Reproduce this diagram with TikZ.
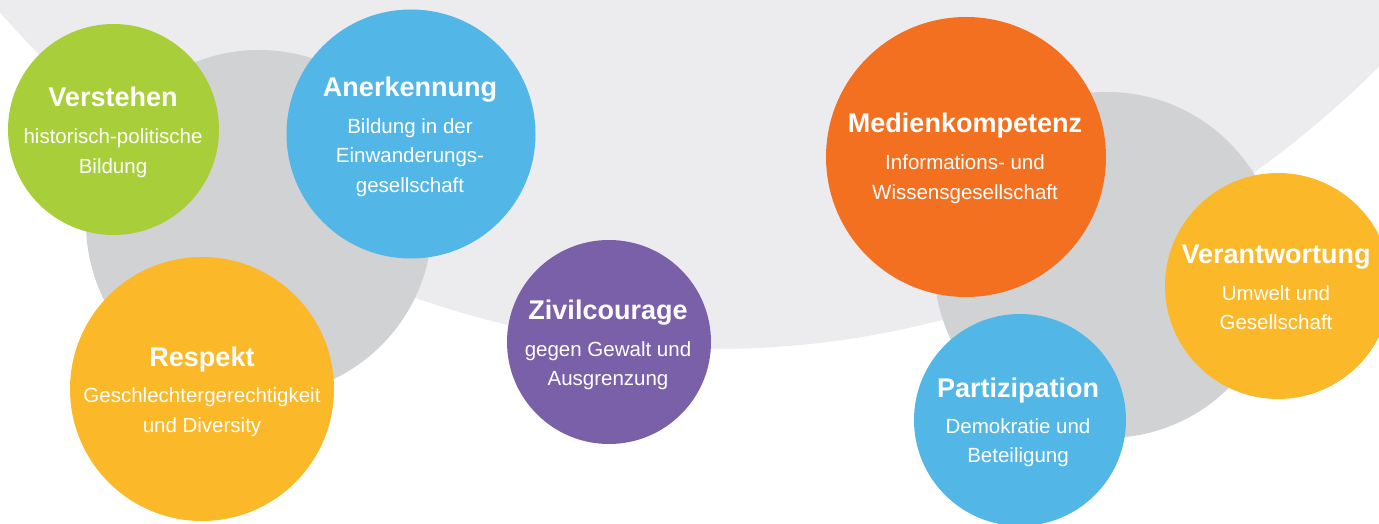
\documentclass[tikz,border=0pt]{standalone}
\usepackage{fontspec}
\setmainfont{Liberation Sans}
\definecolor{bgA}{HTML}{ECECEE}
\definecolor{bgB}{HTML}{D1D2D4}
\definecolor{cgreen}{HTML}{A8CF3A}
\definecolor{cblue}{HTML}{52B6E6}
\definecolor{corange}{HTML}{F37021}
\definecolor{cyellow}{HTML}{FBB828}
\definecolor{cpurple}{HTML}{7A60A8}
\begin{document}
\begin{tikzpicture}[x=1pt,y=-1pt,
  bubble/.style={circle, inner sep=0pt, minimum size=#1},
  ttl/.style={anchor=base, text=white, inner sep=0pt, font=\fontsize{27}{27}\selectfont\bfseries},
  sub/.style={anchor=base, text=white, inner sep=0pt, font=\fontsize{20.5}{20.5}\selectfont}]
\useasboundingbox (0,0) rectangle (1379,524);
\clip (0,0) rectangle (1379,524);
% background shapes
\fill[bgA] (715,-778) ellipse [x radius=1003, y radius=1127];
\node[bubble=346pt, fill=bgB] (grayL) at (259,223) {};
\node[bubble=346pt, fill=bgB] (grayR) at (1107,265) {};
% bubbles
\node[bubble=211pt, fill=cgreen] (verstehen) at (113.5,129.5) {};
\node[bubble=249pt, fill=cblue] (anerkennung) at (411,134) {};
\node[bubble=264pt, fill=cyellow] (respekt) at (202,389) {};
\node[bubble=204pt, fill=cpurple] (zivil) at (609,342) {};
\node[bubble=280pt, fill=corange] (medien) at (966,157) {};
\node[bubble=226pt, fill=cyellow] (verant) at (1278,286) {};
\node[bubble=212pt, fill=cblue] (partiz) at (1020,420) {};
% texts
\node[ttl] (verstehen-t) at (113,107) {Verstehen};
\node[sub] (verstehen-s1) at (113,144) {historisch-politische};
\node[sub] (verstehen-s2) at (113,173) {Bildung};

\node[ttl] (anerkennung-t) at (410,97) {Anerkennung};
\node[sub] (anerkennung-s1) at (410,134) {Bildung in der};
\node[sub] (anerkennung-s2) at (410,163) {Einwanderungs-};
\node[sub] (anerkennung-s3) at (410,192) {gesellschaft};

\node[ttl] (respekt-t) at (202,366) {Respekt};
\node[sub] (respekt-s1) at (202,402) {Geschlechtergerechtigkeit};
\node[sub] (respekt-s2) at (202,432) {und Diversity};

\node[ttl] (zivil-t) at (608,319) {Zivilcourage};
\node[sub] (zivil-s1) at (608,356) {gegen Gewalt und};
\node[sub] (zivil-s2) at (608,385) {Ausgrenzung};

\node[ttl] (medien-t) at (965,133) {Medienkompetenz};
\node[sub] (medien-s1) at (965,170) {Informations- und};
\node[sub] (medien-s2) at (965,199) {Wissensgesellschaft};

\node[ttl] (verant-t) at (1276,263) {Verantwortung};
\node[sub] (verant-s1) at (1276,300) {Umwelt und};
\node[sub] (verant-s2) at (1276,329) {Gesellschaft};

\node[ttl] (partiz-t) at (1018,397) {Partizipation};
\node[sub] (partiz-s1) at (1018,433) {Demokratie und};
\node[sub] (partiz-s2) at (1018,462) {Beteiligung};
\end{tikzpicture}
\end{document}
